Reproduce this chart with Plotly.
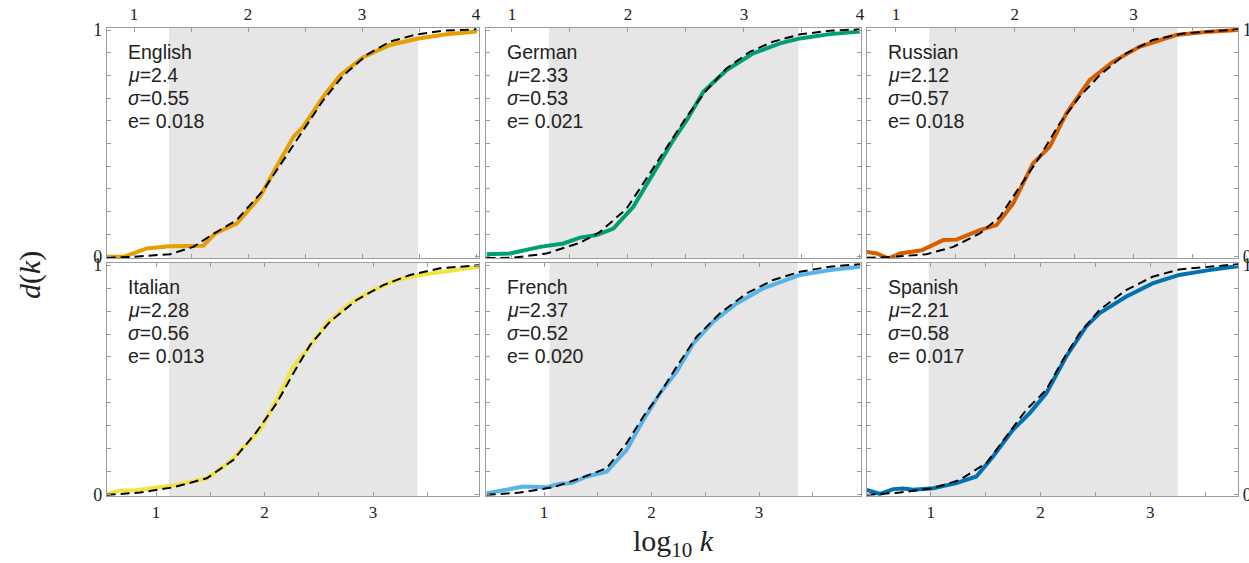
import plotly.graph_objects as go

W, H = 1249, 563

languages = ["English", "German", "Russian", "Italian", "French", "Spanish"]
colors = ["#E69F00", "#009E73", "#D55E00", "#F0E442", "#56B4E9", "#0072B2"]
mu_text = ["2.4", "2.33", "2.12", "2.28", "2.37", "2.21"]
sigma_text = ["0.55", "0.53", "0.57", "0.56", "0.52", "0.58"]
e_text = ["0.018", "0.021", "0.018", "0.013", "0.020", "0.017"]

# empirical curves (x = log10 k on each panel's labelled axis, y = d(k))
english_x = [0.76, 0.909, 1.111, 1.316, 1.608, 1.711, 1.90, 2.105, 2.25, 2.398, 2.485, 2.66, 2.807, 3.01, 3.245, 3.494, 3.743, 4.006]
english_y = [0.0, 0.0, 0.037, 0.047, 0.049, 0.103, 0.147, 0.265, 0.397, 0.529, 0.574, 0.706, 0.80, 0.88, 0.934, 0.963, 0.981, 0.993]
german_x = [0.782, 0.983, 1.241, 1.443, 1.586, 1.73, 1.874, 2.046, 2.218, 2.391, 2.506, 2.65, 2.851, 3.08, 3.31, 3.483, 3.741, 4.0]
german_y = [0.012, 0.015, 0.044, 0.059, 0.085, 0.096, 0.125, 0.221, 0.368, 0.515, 0.603, 0.728, 0.824, 0.897, 0.941, 0.963, 0.982, 0.993]
russian_x = [0.753, 0.838, 0.936, 1.034, 1.216, 1.398, 1.51, 1.706, 1.846, 1.986, 2.154, 2.294, 2.434, 2.63, 2.826, 3.05, 3.358, 3.639, 3.89]
russian_y = [0.022, 0.015, -0.007, 0.015, 0.029, 0.074, 0.076, 0.118, 0.14, 0.235, 0.412, 0.485, 0.632, 0.779, 0.86, 0.926, 0.978, 0.993, 1.0]
italian_x = [0.545, 0.668, 0.791, 0.975, 1.19, 1.467, 1.682, 1.959, 2.112, 2.266, 2.389, 2.573, 2.788, 3.003, 3.218, 3.433, 3.679, 3.986]
italian_y = [0.003, 0.019, 0.019, 0.032, 0.043, 0.072, 0.145, 0.283, 0.413, 0.558, 0.63, 0.746, 0.833, 0.891, 0.935, 0.957, 0.975, 0.993]
french_x = [0.467, 0.653, 0.808, 1.025, 1.149, 1.257, 1.397, 1.583, 1.769, 1.924, 2.079, 2.234, 2.389, 2.575, 2.792, 3.04, 3.381, 3.66, 3.94]
french_y = [0.007, 0.025, 0.036, 0.033, 0.048, 0.051, 0.08, 0.101, 0.196, 0.326, 0.442, 0.536, 0.659, 0.754, 0.833, 0.899, 0.957, 0.978, 0.993]
spanish_x = [0.415, 0.536, 0.658, 0.748, 0.839, 1.021, 1.233, 1.415, 1.567, 1.748, 1.9, 2.052, 2.233, 2.415, 2.536, 2.779, 3.021, 3.264, 3.536, 3.809]
spanish_y = [0.022, 0.004, 0.025, 0.028, 0.022, 0.029, 0.051, 0.08, 0.167, 0.283, 0.355, 0.442, 0.601, 0.732, 0.79, 0.862, 0.92, 0.957, 0.978, 0.996]

# fitted curves (dashed)
english_fit_x = [0.76, 0.994, 1.316, 1.52, 1.68, 1.90, 2.135, 2.31, 2.485, 2.66, 2.836, 3.04, 3.245, 3.48, 3.71, 4.006]
english_fit_y = [-0.004, 0.0, 0.012, 0.044, 0.096, 0.162, 0.294, 0.426, 0.559, 0.691, 0.80, 0.89, 0.949, 0.981, 0.997, 1.003]
german_fit_x = [0.78, 1.01, 1.299, 1.586, 1.759, 1.989, 2.16, 2.333, 2.506, 2.678, 2.851, 3.05, 3.253, 3.483, 3.741, 4.0]
german_fit_y = [-0.005, -0.004, 0.015, 0.062, 0.11, 0.213, 0.346, 0.485, 0.618, 0.735, 0.831, 0.904, 0.949, 0.981, 0.997, 1.003]
russian_fit_x = [0.753, 0.978, 1.258, 1.482, 1.706, 1.874, 2.042, 2.21, 2.378, 2.546, 2.714, 2.938, 3.162, 3.415, 3.89]
russian_fit_y = [-0.005, 0.0, 0.012, 0.044, 0.103, 0.176, 0.309, 0.441, 0.588, 0.706, 0.80, 0.897, 0.956, 0.985, 1.003]
italian_fit_x = [0.545, 0.853, 1.16, 1.467, 1.713, 1.928, 2.112, 2.266, 2.42, 2.604, 2.849, 3.095, 3.341, 3.618, 3.986]
italian_fit_y = [0.0, 0.01, 0.033, 0.072, 0.152, 0.275, 0.399, 0.529, 0.652, 0.754, 0.848, 0.913, 0.957, 0.986, 1.0]
french_fit_x = [0.467, 0.777, 1.087, 1.335, 1.583, 1.769, 1.924, 2.079, 2.234, 2.42, 2.637, 2.885, 3.133, 3.381, 3.66, 3.94]
french_fit_y = [0.0, 0.01, 0.033, 0.072, 0.116, 0.225, 0.341, 0.442, 0.558, 0.688, 0.79, 0.877, 0.935, 0.971, 0.993, 1.004]
spanish_fit_x = [0.415, 0.718, 1.021, 1.264, 1.506, 1.688, 1.87, 2.052, 2.203, 2.355, 2.536, 2.779, 3.021, 3.264, 3.809]
spanish_fit_y = [0.0, 0.01, 0.029, 0.065, 0.138, 0.254, 0.37, 0.457, 0.587, 0.703, 0.804, 0.891, 0.949, 0.981, 1.004]

# shaded fitting windows
shade_start = [1.307, 1.32, 1.28, 1.12, 1.05, 0.98]
shade_end = [3.49, 3.47, 3.37, 3.41, 3.36, 3.25]

# per-panel x ranges
x_ranges = [[0.763, 4.026], [0.776, 4.009], [0.756, 3.88],
            [0.548, 3.977], [0.460, 3.949], [0.418, 3.80]]
y_range = [-0.005, 1.009]

x_tickvals = [[1, 1.5, 2, 2.5, 3, 3.5, 4]] * 3 + [[1, 1.5, 2, 2.5, 3, 3.5]] * 3
x_ticktext = [["1", "", "2", "", "3", "", "4"]] * 3 + [["1", "", "2", "", "3", ""]] * 3
y_tickvals = [0, 0.1, 0.2, 0.3, 0.4, 0.5, 0.6, 0.7, 0.8, 0.9, 1.0]
y_ticktext = ["0", "", "", "", "", "", "", "", "", "", "1"]

xs = [english_x, german_x, russian_x, italian_x, french_x, spanish_x]
ys = [english_y, german_y, russian_y, italian_y, french_y, spanish_y]
fxs = [english_fit_x, german_fit_x, russian_fit_x, italian_fit_x, french_fit_x, spanish_fit_x]
fys = [english_fit_y, german_fit_y, russian_fit_y, italian_fit_y, french_fit_y, spanish_fit_y]

# pixel layout of the panels
col_px = [(107, 479), (486, 861), (867, 1238)]
row_px = [(28, 258), (263, 496)]

FRAME = "#9c9c9c"
SERIF = "Liberation Serif"
SANS = "Liberation Sans"

fig = go.Figure()
layout = dict(width=W, height=H, margin=dict(l=0, r=0, t=0, b=0, autoexpand=False),
              paper_bgcolor="white", plot_bgcolor="white", showlegend=False)
shapes = []
annotations = []

for i in range(6):
    r, c = divmod(i, 3)
    n = "" if i == 0 else str(i + 1)
    xa, ya = "x" + n, "y" + n
    x0p, x1p = col_px[c]
    y0p, y1p = row_px[r]
    layout["xaxis" + n] = dict(
        domain=[x0p / W, x1p / W], anchor=ya, range=x_ranges[i],
        side="top" if r == 0 else "bottom",
        tickvals=x_tickvals[i], ticktext=x_ticktext[i],
        ticks="inside", ticklen=4, tickcolor=FRAME, tickwidth=1,
        showline=True, linecolor=FRAME, linewidth=1.2, mirror="ticks",
        showgrid=False, zeroline=False, automargin=False,
        tickfont=dict(family=SERIF, size=17, color="#222"),
    )
    layout["yaxis" + n] = dict(
        domain=[1 - y1p / H, 1 - y0p / H], anchor=xa, range=y_range,
        side="right" if c == 2 else "left",
        tickvals=y_tickvals,
        ticktext=y_ticktext if c != 1 else [""] * len(y_tickvals),
        ticks="inside", ticklen=4, tickcolor=FRAME, tickwidth=1,
        showline=True, linecolor=FRAME, linewidth=1.2, mirror="ticks",
        showgrid=False, zeroline=False, automargin=False,
        tickfont=dict(family=SERIF, size=18, color="#222"),
    )
    shapes.append(dict(type="rect", xref=xa, yref=ya + " domain",
                       x0=shade_start[i], x1=shade_end[i], y0=0, y1=1,
                       fillcolor="#e6e6e6", line=dict(width=0), layer="below"))
    fig.add_trace(go.Scatter(x=xs[i], y=ys[i], mode="lines", xaxis=xa, yaxis=ya,
                             line=dict(color=colors[i], width=4), hoverinfo="skip"))
    fig.add_trace(go.Scatter(x=fxs[i], y=fys[i], mode="lines", xaxis=xa, yaxis=ya,
                             line=dict(color="black", width=2, dash="9px,5px"), hoverinfo="skip"))
    lines = [languages[i], "<i>μ</i>=" + mu_text[i], "<i>σ</i>=" + sigma_text[i], "e= " + e_text[i]]
    tx = (x0p + 19) / W
    for k, t in enumerate(lines):
        cy = y0p + 24 + 23 * k
        annotations.append(dict(text=t, xref="paper", yref="paper", x=tx, y=1 - cy / H,
                                xanchor="left", yanchor="middle", showarrow=False,
                                font=dict(family=SANS, size=19.5, color="#222")))

annotations.append(dict(text="<i>d</i>(<i>k</i>)", xref="paper", yref="paper",
                        x=30 / W, y=1 - 275 / H, textangle=-90, showarrow=False,
                        xanchor="center", yanchor="middle",
                        font=dict(family=SERIF, size=30, color="#222")))
annotations.append(dict(text="log<sub>10</sub> <i>k</i>", xref="paper", yref="paper",
                        x=673 / W, y=1 - 543 / H, showarrow=False,
                        xanchor="center", yanchor="middle",
                        font=dict(family=SERIF, size=30, color="#222")))

layout["shapes"] = shapes
layout["annotations"] = annotations
fig.update_layout(**layout)
fig.write_html("out.html", config={"displayModeBar": False},
               post_script="document.body.style.margin='0';document.body.style.overflow='hidden';")
